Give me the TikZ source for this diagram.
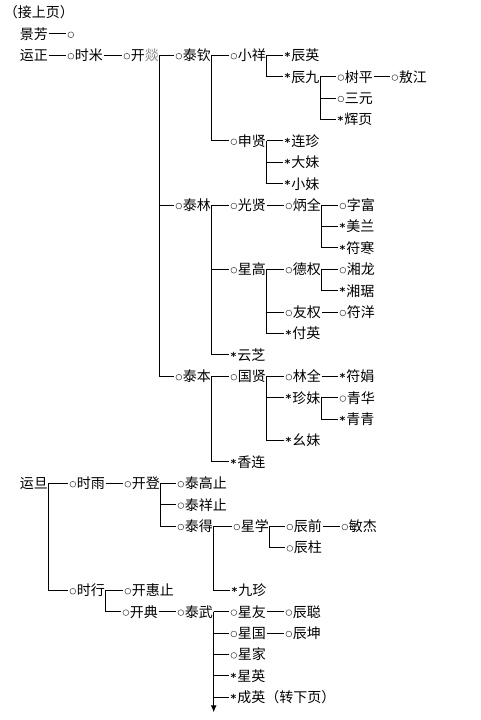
\documentclass[tikz,border=0pt]{standalone}
\usepackage{fontspec}
\setmainfont{Noto Sans CJK SC}
\newfontfamily\starfont{DejaVu Sans Bold}
\usetikzlibrary{arrows.meta}
\newcommand\oo{\tikz[baseline={(0,-4.4pt)}]\draw[line width=0.6pt,black!65] (3.75pt,0) circle[radius=2.9pt] (0,0) (7.5pt,0);}
\newcommand\st{\makebox[7.5pt]{\raisebox{0.2pt}{\starfont\fontsize{11}{11}\selectfont *}}}
\tikzset{
  person/.style={anchor=west, inner xsep=0.6pt, inner ysep=0pt, text height=12.3pt, text depth=1.7pt, font=\fontsize{14}{14}\selectfont},
  link/.style={line width=1pt, black},
}
\begin{document}
\begin{tikzpicture}[x=1pt,y=-21.4pt]
\path[use as bounding box] (0,-0.5841) rectangle (481,33.0607);
\node[person] (jsy) at (3,0) {（接上页）};
\node[person] (jf) at (19,1) {景芳};
\node[person] (jfo) at (66,1) {\oo};
\node[person] (yz) at (19,2) {运正};
\node[person] (sm) at (66,2) {\oo 时米};
\node[person] (ky) at (122,2) {\oo 开{\color{black!45}燚}};
\node[person] (tq) at (174,2) {\oo 泰钦};
\node[person] (xx) at (229,2) {\oo 小祥};
\node[person] (cy) at (283,2) {\st 辰英};
\node[person] (cj) at (283,3) {\st 辰九};
\node[person] (sp) at (336,3) {\oo 树平};
\node[person] (aj) at (390,3) {\oo 敖江};
\node[person] (sy) at (336,4) {\oo 三元};
\node[person] (hy) at (336,5) {\st 辉页};
\node[person] (sx) at (229,6) {\oo 申贤};
\node[person] (lz) at (283,6) {\st 连珍};
\node[person] (dm) at (283,7) {\st 大妹};
\node[person] (xm) at (283,8) {\st 小妹};
\node[person] (tl) at (174,9) {\oo 泰林};
\node[person] (gx) at (229,9) {\oo 光贤};
\node[person] (bq) at (284,9) {\oo 炳全};
\node[person] (yf) at (338,9) {\oo 字富};
\node[person] (ml) at (338,10) {\st 美兰};
\node[person] (fh) at (338,11) {\st 符寒};
\node[person] (xg) at (229,12) {\oo 星高};
\node[person] (dq) at (284,12) {\oo 德权};
\node[person] (xl) at (338,12) {\oo 湘龙};
\node[person] (xj) at (338,13) {\st 湘琚};
\node[person] (yq) at (284,14) {\oo 友权};
\node[person] (fy) at (338,14) {\oo 符洋};
\node[person] (fuy) at (284,15) {\st 付英};
\node[person] (yzh) at (229,16) {\st 云芝};
\node[person] (tb) at (174,17) {\oo 泰本};
\node[person] (gux) at (229,17) {\oo 国贤};
\node[person] (lq) at (284,17) {\oo 林全};
\node[person] (fj) at (338,17) {\st 符娟};
\node[person] (zm) at (284,18) {\st 珍妹};
\node[person] (qh) at (338,18) {\oo 青华};
\node[person] (qq) at (338,19) {\st 青青};
\node[person] (ym) at (284,20) {\st 幺妹};
\node[person] (xil) at (229,21) {\st 香连};
\node[person] (yd) at (19,22) {运旦};
\node[person] (sy2) at (68,22) {\oo 时雨};
\node[person] (kd) at (123,22) {\oo 开登};
\node[person] (tgz) at (176,22) {\oo 泰高止};
\node[person] (txz) at (176,23) {\oo 泰祥止};
\node[person] (td) at (176,24) {\oo 泰得};
\node[person] (xxue) at (232,24) {\oo 星学};
\node[person] (cq) at (285,24) {\oo 辰前};
\node[person] (mj) at (340,24) {\oo 敏杰};
\node[person] (cz) at (285,25) {\oo 辰柱};
\node[person] (sh) at (68,27) {\oo 时行};
\node[person] (khz) at (123,27) {\oo 开惠止};
\node[person] (jz) at (230,27) {\st 九珍};
\node[person] (kdi) at (121,28) {\oo 开典};
\node[person] (tw) at (176,28) {\oo 泰武};
\node[person] (xy) at (229,28) {\oo 星友};
\node[person] (cc) at (284,28) {\oo 辰聪};
\node[person] (xgu) at (229,29) {\oo 星国};
\node[person] (ck) at (284,29) {\oo 辰坤};
\node[person] (xjia) at (229,30) {\oo 星家};
\node[person] (xying) at (229,31) {\st 星英};
\node[person] (chy) at (229,32) {\st 成英（转下页）};
\coordinate (twend) at (tw.east |- 0,32.7);
\begin{scope}[link]
\draw (jf.east) -- (jfo.west);
\draw (yz.east) -- (sm.west);
\draw (sm.east) -- (ky.west);
\draw (ky.east) -- (tq.west);
\draw (ky.east) |- (tl.west);
\draw (ky.east) |- (tb.west);
\draw (tq.east) -- (xx.west);
\draw (tq.east) |- (sx.west);
\draw (xx.east) -- (cy.west);
\draw (xx.east) |- (cj.west);
\draw (cj.east) -- (sp.west);
\draw (cj.east) |- (sy.west);
\draw (cj.east) |- (hy.west);
\draw (sp.east) -- (aj.west);
\draw (sx.east) -- (lz.west);
\draw (sx.east) |- (dm.west);
\draw (sx.east) |- (xm.west);
\draw (tl.east) -- (gx.west);
\draw (tl.east) |- (xg.west);
\draw (tl.east) |- (yzh.west);
\draw (gx.east) -- (bq.west);
\draw (bq.east) -- (yf.west);
\draw (bq.east) |- (ml.west);
\draw (bq.east) |- (fh.west);
\draw (xg.east) -- (dq.west);
\draw (xg.east) |- (yq.west);
\draw (xg.east) |- (fuy.west);
\draw (dq.east) -- (xl.west);
\draw (dq.east) |- (xj.west);
\draw (yq.east) -- (fy.west);
\draw (tb.east) -- (gux.west);
\draw (tb.east) |- (xil.west);
\draw (gux.east) -- (lq.west);
\draw (gux.east) |- (zm.west);
\draw (gux.east) |- (ym.west);
\draw (lq.east) -- (fj.west);
\draw (zm.east) -- (qh.west);
\draw (zm.east) |- (qq.west);
\draw (yd.east) -- (sy2.west);
\draw (yd.east) |- (sh.west);
\draw (sy2.east) -- (kd.west);
\draw (kd.east) -- (tgz.west);
\draw (kd.east) |- (txz.west);
\draw (kd.east) |- (td.west);
\draw (td.east) -- (xxue.west);
\draw (td.east) |- (jz.west);
\draw (xxue.east) -- (cq.west);
\draw (xxue.east) |- (cz.west);
\draw (cq.east) -- (mj.west);
\draw (sh.east) -- (khz.west);
\draw (sh.east) |- (kdi.west);
\draw (kdi.east) -- (tw.west);
\draw (tw.east) -- (xy.west);
\draw (tw.east) |- (xgu.west);
\draw (tw.east) |- (xjia.west);
\draw (tw.east) |- (xying.west);
\draw (tw.east) |- (chy.west);
\draw[-{Latex[length=7pt,width=6pt]}] (tw.east) -- (twend);
\draw (xy.east) -- (cc.west);
\draw (xgu.east) -- (ck.west);
\end{scope}
\end{tikzpicture}
\end{document}
